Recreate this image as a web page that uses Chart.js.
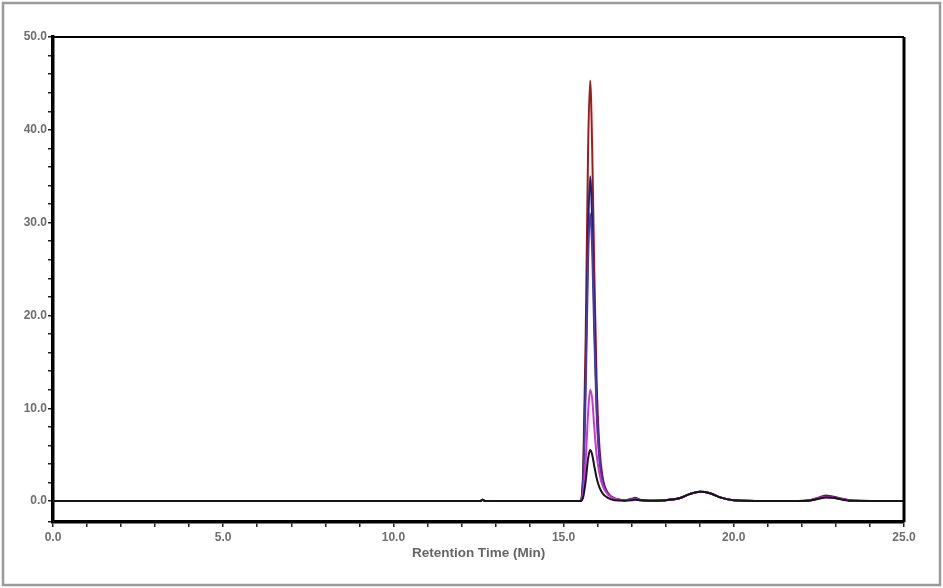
<!DOCTYPE html>
<html>
<head>
<script src="https://cdn.jsdelivr.net/npm/chart.js"></script>
<style>
    body { margin: 0; background: #fff; }
    #wrap { width: 943px; height: 588px; position: relative; }
</style>
</head>
<body>
<div id="wrap"><canvas id="myChart" width="943" height="588"></canvas></div>

<script>
    // retention time (min), shared by all traces
    const times = [0, 12.55, 12.62, 12.7, 15.5, 15.58, 15.65, 15.72, 15.78, 15.84, 15.9, 15.97, 16.05, 16.15, 16.3, 16.5, 16.8, 17.0, 17.1, 17.25, 17.5, 18.0, 18.4, 18.7, 19.0, 19.3, 19.6, 20.0, 21.5, 22.2, 22.5, 22.7, 22.9, 23.2, 23.5, 25.0]

    const blackTrace   = [0, 0, 0.15, 0, 0, 0.5, 2.2, 4.6, 5.5, 5.0, 3.8, 2.5, 1.5, 0.8, 0.35, 0.1, 0.05, 0.1, 0.15, 0.1, 0.05, 0.1, 0.3, 0.75, 1.0, 0.85, 0.4, 0.1, 0, 0.05, 0.25, 0.4, 0.35, 0.15, 0.03, 0]
    const magentaTrace = [0, 0, 0.15, 0, 0, 1.0, 4.5, 9.5, 12.0, 11.0, 8.0, 5.0, 3.0, 1.6, 0.7, 0.25, 0.1, 0.15, 0.2, 0.1, 0.05, 0.1, 0.3, 0.75, 1.0, 0.85, 0.4, 0.1, 0, 0.05, 0.3, 0.45, 0.4, 0.2, 0.03, 0]
    const purpleTrace  = [0, 0, 0.15, 0, 0, 2.6, 12.0, 26.0, 31.0, 27.0, 18.0, 9.5, 4.6, 2.0, 0.8, 0.25, 0.1, 0.2, 0.25, 0.1, 0.05, 0.1, 0.3, 0.75, 1.0, 0.85, 0.4, 0.1, 0, 0.05, 0.3, 0.45, 0.4, 0.2, 0.03, 0]
    const navyTrace    = [0, 0, 0.15, 0, 0, 3.0, 14.0, 29.0, 35.0, 30.0, 20.0, 10.5, 5.0, 2.2, 0.8, 0.25, 0.1, 0.2, 0.3, 0.12, 0.05, 0.1, 0.3, 0.75, 1.0, 0.85, 0.4, 0.1, 0, 0.08, 0.35, 0.5, 0.45, 0.2, 0.04, 0]
    const redTrace     = [0, 0, 0.15, 0, 0, 4.0, 18.0, 38.0, 45.3, 38.0, 25.0, 13.0, 6.0, 2.5, 0.9, 0.3, 0.1, 0.25, 0.35, 0.15, 0.05, 0.1, 0.3, 0.75, 1.0, 0.85, 0.4, 0.1, 0, 0.1, 0.4, 0.6, 0.5, 0.25, 0.05, 0]

    const xTickLabels = ['0.0', '5.0', '10.0', '15.0', '20.0', '25.0']
    const yTickLabels = ['0.0', '10.0', '20.0', '30.0', '40.0', '50.0']

    // first dataset ends up on top
    const _traces = [blackTrace, magentaTrace, purpleTrace, navyTrace, redTrace]
    const _colors = ['#151515', '#cf35cf', '#4a3aa6', '#20207a', '#9c1c1c']

    let _datasets = []
    for (let i = 0; i < _traces.length; i++) {
        _datasets.push({
            data: times.map((t, k) => ({ x: t, y: _traces[i][k] })),
            borderColor: _colors[i],
            borderWidth: 2,
            pointRadius: 0,
            cubicInterpolationMode: 'monotone',
            tension: 0.4,
            fill: false
        })
    }

    // frame around the plot and outer gray border
    const framePlugin = {
        id: 'frame',
        beforeDraw(chart) {
            const ctx = chart.ctx
            ctx.save()
            ctx.fillStyle = '#fff'
            ctx.fillRect(0, 0, chart.width, chart.height)
            ctx.strokeStyle = '#9a9a9a'
            ctx.lineWidth = 2.5
            ctx.strokeRect(3, 3, chart.width - 6, chart.height - 6)
            ctx.restore()
        },
        afterDraw(chart) {
            const a = chart.chartArea
            const ctx = chart.ctx
            ctx.save()
            ctx.strokeStyle = '#000'
            ctx.lineWidth = 2
            ctx.beginPath()
            ctx.moveTo(a.left, a.top)
            ctx.lineTo(a.right, a.top)
            ctx.stroke()
            ctx.lineWidth = 3
            ctx.beginPath()
            ctx.moveTo(a.right, a.top)
            ctx.lineTo(a.right, a.bottom)
            ctx.stroke()
            ctx.restore()
        }
    }

    const tickFont = { family: 'Arial, "Liberation Sans", sans-serif', size: 12, weight: 'bold' }

    new Chart(document.getElementById('myChart'), {
        type: 'line',
        data: { datasets: _datasets },
        options: {
            responsive: false,
            animation: false,
            layout: { padding: { left: 0, top: 37, right: 39, bottom: 0 } },
            plugins: { legend: { display: false }, tooltip: { enabled: false } },
            scales: {
                x: {
                    type: 'linear',
                    min: 0,
                    max: 25,
                    afterFit: s => { s.height = 66 },
                    border: { display: true, color: '#000', width: 3.5 },
                    grid: { drawOnChartArea: false, drawTicks: true, tickLength: 5, color: '#222', lineWidth: 1.5 },
                    ticks: {
                        stepSize: 1,
                        autoSkip: false,
                        maxRotation: 0,
                        padding: 3,
                        color: '#6e6e6e',
                        font: tickFont,
                        callback: v => (v % 5 === 0 ? xTickLabels[v / 5] : '')
                    },
                    title: {
                        display: true,
                        text: 'Retention Time (Min)',
                        color: '#666',
                        font: { family: 'Arial, "Liberation Sans", sans-serif', size: 13.5, weight: 'bold' },
                        padding: { top: 0, bottom: 27 }
                    }
                },
                y: {
                    min: -2.25,
                    max: 50,
                    afterFit: s => { s.width = 53 },
                    border: { display: true, color: '#000', width: 3.5 },
                    grid: { drawOnChartArea: false, drawTicks: true, tickLength: 5, color: '#222', lineWidth: 1.5 },
                    ticks: {
                        stepSize: 2,
                        autoSkip: false,
                        padding: 1,
                        color: '#6e6e6e',
                        font: tickFont,
                        callback: v => (v >= 0 && v % 10 === 0 ? yTickLabels[v / 10] : '')
                    }
                }
            }
        },
        plugins: [framePlugin]
    });
</script>
</body>
</html>
